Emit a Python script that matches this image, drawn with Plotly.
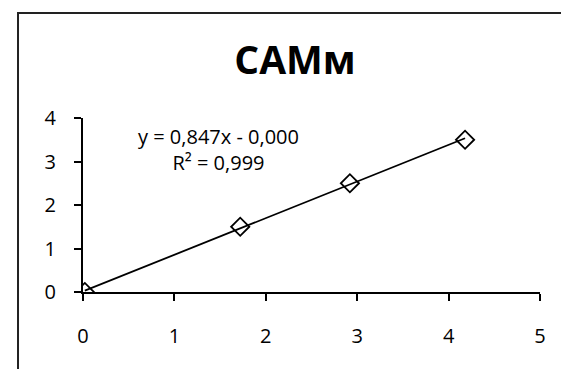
import numpy as np
import plotly.graph_objects as go

# Data
x_vals = [0.02, 1.72, 2.92, 4.18]
y_vals = [0.0, 1.5, 2.5, 3.5]
x_ticks = [0, 1, 2, 3, 4, 5]
y_ticks = [0, 1, 2, 3, 4]
title_text = "<b>CAMм</b>"
eq_text = "y = 0,847x - 0,000"
r2_text = "R² = 0,999"

FONT = "Open Sans"
FS = 20

slope, intercept = np.polyfit(x_vals, y_vals, 1)
tx = np.array([min(x_vals), max(x_vals)])
ty = slope * tx + intercept

fig = go.Figure()
fig.add_trace(go.Scatter(x=tx, y=ty, mode="lines",
                         line=dict(color="black", width=1.8),
                         hoverinfo="skip", showlegend=False))
fig.add_trace(go.Scatter(x=x_vals, y=y_vals, mode="markers",
                         marker=dict(symbol="diamond-open", size=14,
                                     color="black", line=dict(color="black", width=1.8)),
                         showlegend=False))

fig.add_annotation(x=1.48, y=3.28, xref="x", yref="y",
                   text=eq_text + "<br>" + r2_text, align="center",
                   showarrow=False, font=dict(family=FONT, size=20, color="black"),
                   xanchor="center", yanchor="middle")

# chart border (extends past the viewport on right and bottom)
fig.add_shape(type="rect", xref="paper", yref="paper",
              x0=-0.1422, x1=1.3, y0=-1.0, y1=1.604,
              line=dict(color="#222222", width=2), layer="below")

fig.update_layout(
    width=561, height=369,
    margin=dict(l=83, r=21, t=118, b=77, pad=0),
    paper_bgcolor="white", plot_bgcolor="white",
    title=dict(text=title_text, x=0.464, xref="paper", xanchor="center",
               y=1 - 60 / 369, yref="container", yanchor="middle",
               font=dict(family=FONT, size=39, color="black")),
    font=dict(family=FONT, size=FS, color="black"),
)
fig.update_xaxes(range=[0, 5], tickvals=x_ticks, ticktext=[str(v) for v in x_ticks],
                 showgrid=False, zeroline=False, showline=True, linecolor="black",
                 linewidth=2, ticks="outside", ticklen=7, tickwidth=2,
                 tickcolor="black", ticklabelstandoff=18,
                 tickfont=dict(family=FONT, size=FS, color="black"))
fig.update_yaxes(range=[0, 4], tickvals=y_ticks, ticktext=[str(v) for v in y_ticks],
                 showgrid=False, zeroline=False, showline=True, linecolor="black",
                 linewidth=2, ticks="outside", ticklen=7, tickwidth=2,
                 tickcolor="black", ticklabelstandoff=14,
                 tickfont=dict(family=FONT, size=FS, color="black"))

fig.write_html("out.html")
